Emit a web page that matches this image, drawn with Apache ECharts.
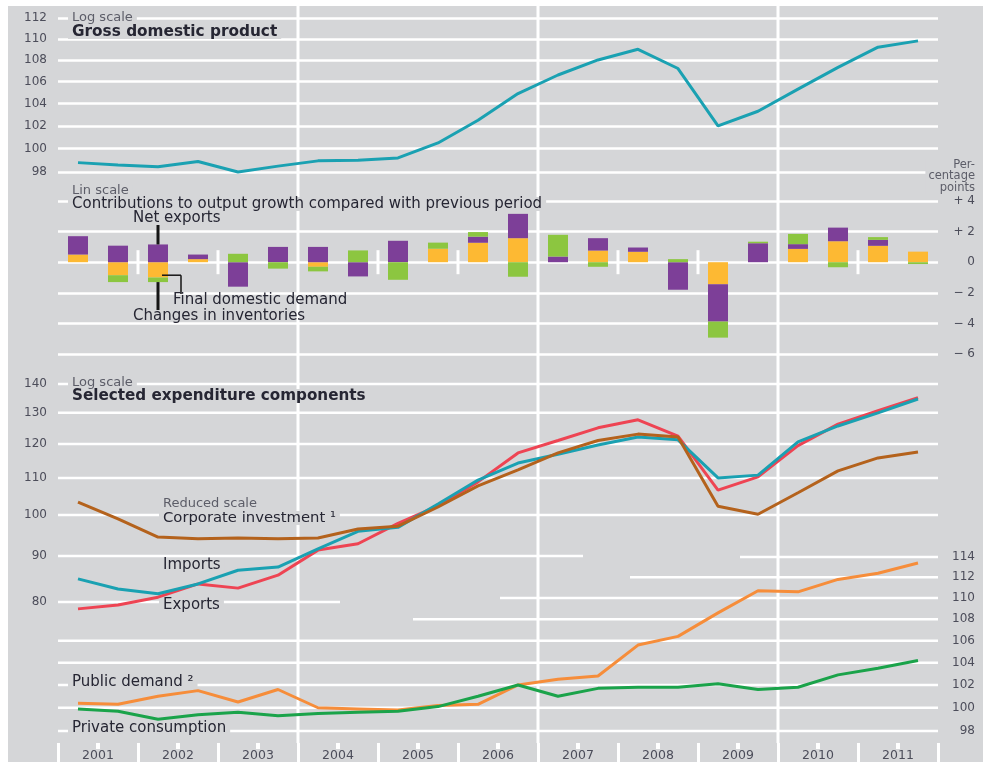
<!DOCTYPE html>
<html><head><meta charset="utf-8">
<script src="https://cdn.jsdelivr.net/npm/echarts@6/dist/echarts.min.js"></script>
<style>
html,body{margin:0;padding:0;background:#fff;}
#bg{position:absolute;left:8px;top:6px;width:975px;height:756px;background:#d5d6d8;}
#chart{position:absolute;left:0;top:0;width:983px;height:762px;}
</style></head><body>
<div id="bg"></div><div id="chart"></div>
<script>
// ---------- data ----------
const halfYears = ['2001 H1','2001 H2','2002 H1','2002 H2','2003 H1','2003 H2','2004 H1','2004 H2','2005 H1','2005 H2','2006 H1','2006 H2','2007 H1','2007 H2','2008 H1','2008 H2','2009 H1','2009 H2','2010 H1','2010 H2','2011 H1','2011 H2'];
const years = ['2001','2002','2003','2004','2005','2006','2007','2008','2009','2010','2011'];
const gdp = [98.8, 98.6, 98.45, 98.9, 98.0, 98.5, 98.95, 99.0, 99.2, 100.5, 102.5, 104.9, 106.6, 108.0, 109.0, 107.2, 102.0, 103.3, 105.3, 107.3, 109.2, 109.8];
const finalDomesticDemand = [0.5, -0.85, -1.0, 0.2, 0, 0, -0.3, 0, 0, 0.88, 1.27, 1.57, 0, 0.76, 0.68, 0, -1.44, 0, 0.87, 1.37, 1.07, 0.69];
const netExports = [1.2, 1.08, 1.16, 0.3, -1.6, 1.0, 1.0, -0.93, 1.4, 0, 0.4, 1.59, 0.37, 0.81, 0.28, -1.8, -2.44, 1.24, 0.31, 0.89, 0.39, 0];
const inventories = [0, -0.45, -0.3, 0, 0.55, -0.42, -0.3, 0.77, -1.15, 0.4, 0.3, -0.95, 1.42, -0.3, 0, 0.2, -1.05, 0.1, 0.67, -0.33, 0.18, -0.12];
const corporateInvestment = [103.4, 99.0, 94.5, 94.1, 94.3, 94.1, 94.3, 96.5, 97.2, 102.1, 107.8, 112.3, 117.3, 121.1, 123.1, 122.2, 102.3, 100.2, 105.9, 112.0, 115.8, 117.6];
const importsIdx = [84.9, 82.7, 81.7, 83.8, 86.8, 87.5, 91.7, 95.9, 96.9, 102.9, 109.4, 114.3, 116.9, 119.7, 122.2, 121.3, 110.0, 110.8, 120.7, 125.7, 130.0, 134.7];
const exportsIdx = [78.6, 79.4, 81.0, 83.8, 82.9, 85.7, 91.4, 92.9, 97.9, 102.4, 108.9, 117.3, 121.1, 125.1, 127.7, 122.5, 106.6, 110.3, 119.5, 126.3, 130.7, 135.2];
const publicDemand = [100.4, 100.3, 101.0, 101.5, 100.5, 101.6, 100.0, 99.9, 99.8, 100.2, 100.3, 102.0, 102.5, 102.8, 105.6, 106.4, 108.6, 110.7, 110.6, 111.8, 112.4, 113.4];
const privateConsumption = [99.9, 99.7, 99.0, 99.4, 99.6, 99.3, 99.5, 99.6, 99.7, 100.1, 101.0, 102.0, 101.0, 101.7, 101.8, 101.8, 102.1, 101.6, 101.8, 102.9, 103.5, 104.2];
const gdpTicks = [98, 100, 102, 104, 106, 108, 110, 112];
const contribTicks = [-6, -4, -2, 0, 2, 4];
const expTicks = [80, 90, 100, 110, 120, 130, 140];
const consTicks = [98, 100, 102, 104, 106, 108, 110, 112, 114];

// ---------- style ----------
const FONT = 'DejaVu Sans';
const BG = '#d5d6d8';
const WHITE = '#ffffff';
const TICK = '#4c4d5a';
const DARK = '#262633';
const GREYT = '#5c5d68';
const TEAL = '#1aa1b2', RED = '#ee4453', BROWN = '#b4621c', ORANGEL = '#f68d3a', GREENL = '#1aa34a';
const PURPLE = '#7d3f98', ORANGEB = '#fdb933', GREENB = '#8cc640';
const L = Math.log;
const fmtExp = v => String(Math.round(Math.exp(v)));
const contribFmt = v => v > 0 ? '+ ' + v : (v < 0 ? '\u2212 ' + (-v) : '0');
const lab = extra => Object.assign({color: TICK, fontSize: 12, fontFamily: FONT}, extra);

const hiddenX = gi => ({type: 'category', gridIndex: gi, data: halfYears, show: false});
const GL = 58, GW = 880;

const chart = echarts.init(document.getElementById('chart'), null, {renderer: 'canvas'});
const lineSeries = (name, xi, yi, vals, color) => ({
  name: name, type: 'line', xAxisIndex: xi, yAxisIndex: yi, data: vals.map(L), clip: false,
  symbol: 'none', lineStyle: {color: color, width: 3}, z: 3
});
const barSeries = (name, vals, color) => ({
  name: name, type: 'bar', xAxisIndex: 1, yAxisIndex: 1, stack: 'c', data: vals,
  barWidth: 20, itemStyle: {color: color}, z: 2
});
const option = {
  animation: false,
  backgroundColor: 'transparent',
  grid: [
    {left: GL, width: GW, top: 18, height: 154},
    {left: GL, width: GW, top: 201, height: 153},
    {left: GL, width: GW, top: 384, height: 218},
    {left: GL, width: GW, top: 557, height: 174},
    {left: GL, width: GW, top: 6, bottom: 19}
  ],
  xAxis: [
    hiddenX(0), hiddenX(1), hiddenX(2), hiddenX(3),
    {type: 'category', gridIndex: 4, data: years, position: 'bottom',
     axisLine: {show: false},
     axisTick: {show: true, interval: 0, length: 19, lineStyle: {color: WHITE, width: 3}},
     axisLabel: lab({interval: 0, margin: 6, fontSize: 12.5}),
     splitLine: {show: false}},
    {type: 'category', gridIndex: 4, data: years, position: 'bottom',
     axisLine: {show: false},
     axisTick: {show: true, interval: 0, alignWithLabel: true, length: 6, lineStyle: {color: WHITE, width: 4}},
     axisLabel: {show: false}, splitLine: {show: false}}
  ],
  yAxis: [
    {type: 'value', gridIndex: 0, min: L(98), max: L(112),
     axisLine: {show: false}, axisTick: {show: false, customValues: gdpTicks.map(L)},
     axisLabel: lab({customValues: gdpTicks.map(L), formatter: fmtExp, margin: 11}),
     splitLine: {show: true, lineStyle: {color: WHITE, width: 2.5}}},
    {type: 'value', gridIndex: 1, position: 'right', min: -6, max: 4, interval: 2,
     axisLine: {show: false}, axisTick: {show: false},
     axisLabel: lab({formatter: contribFmt, align: 'right', margin: 37}),
     splitLine: {show: true, lineStyle: {color: WHITE, width: 2.5}}},
    {type: 'value', gridIndex: 2, min: L(80), max: L(140),
     axisLine: {show: false}, axisTick: {show: false, customValues: expTicks.map(L)},
     axisLabel: lab({customValues: expTicks.map(L), formatter: fmtExp, margin: 11}),
     splitLine: {show: false}},
    {type: 'value', gridIndex: 3, position: 'right', min: L(98), max: L(114),
     axisLine: {show: false}, axisTick: {show: false, customValues: consTicks.map(L)},
     axisLabel: lab({customValues: consTicks.map(L), formatter: fmtExp, align: 'right', margin: 37}),
     splitLine: {show: false}},
    {type: 'value', gridIndex: 4, show: false}
  ],
  series: [
    lineSeries('Gross domestic product', 0, 0, gdp, TEAL),
    barSeries('Final domestic demand', finalDomesticDemand, ORANGEB),
    barSeries('Net exports', netExports, PURPLE),
    barSeries('Changes in inventories', inventories, GREENB),
    lineSeries('Exports', 2, 2, exportsIdx, RED),
    lineSeries('Imports', 2, 2, importsIdx, TEAL),
    lineSeries('Corporate investment', 2, 2, corporateInvestment, BROWN),
    lineSeries('Public demand', 3, 3, publicDemand, ORANGEL),
    lineSeries('Private consumption', 3, 3, privateConsumption, GREENL)
  ]
};
chart.setOption(option);

// ---------- decorations built through the chart's own scales ----------
const G = [];
const yPix = (axis, v) => chart.convertToPixel({yAxisIndex: axis}, v);
const xPix = (axis, i) => chart.convertToPixel({xAxisIndex: axis}, i);
const boundary = k => (xPix(0, k - 1) + xPix(0, k)) / 2;
function seg(x1, y1, x2, y2, color, w, z) {
  G.push({type: 'line', silent: true, z: z, shape: {x1: x1, y1: y1, x2: x2, y2: y2},
          style: {stroke: color, lineWidth: w}});
}
// full-height separators every three years
[6, 12, 18].forEach(k => { const x = boundary(k); seg(x, 6, x, 743, WHITE, 3, 0); });

// partial gridlines of the lower panel: [axis, value, from x, to x]
const lowerGrid = [
  [2, 140, 58, 938], [2, 130, 58, 938], [2, 120, 58, 938], [2, 110, 58, 938], [2, 100, 58, 938],
  [2, 90, 58, 583], [2, 80, 58, 340],
  [3, 114, 740, 938], [3, 112, 630, 938], [3, 110, 500, 938], [3, 108, 413, 938],
  [3, 106, 58, 938], [3, 104, 58, 938], [3, 102, 58, 938], [3, 100, 58, 938], [3, 98, 58, 938]
];
lowerGrid.forEach(g => { const y = yPix(g[0], L(g[1])); seg(g[2], y, g[3], y, WHITE, 2.5, 0); });

// year-boundary marks on the zero line of the contributions panel
const y0 = yPix(1, 0);
[2, 4, 8, 10, 14, 16, 20].forEach(k => {
  const x = boundary(k);
  seg(x, y0 - 12, x, y0 + 12, WHITE, 3, 0);
});

// label pointers to the third bar
const bi = 2;
const bx = xPix(1, bi);
const parts = [finalDomesticDemand[bi], netExports[bi], inventories[bi]];
const posTop = yPix(1, parts.filter(v => v > 0).reduce((a, b) => a + b, 0));
const negBot = yPix(1, parts.filter(v => v < 0).reduce((a, b) => a + b, 0));
const fddMid = yPix(1, finalDomesticDemand[bi] * 0.85);
seg(bx, 225, bx, posTop, '#151515', 3, 6);
seg(bx, negBot, bx, 310, '#151515', 3, 6);
seg(bx + 4, fddMid, bx + 23, fddMid, '#151515', 1.5, 6);
seg(bx + 23, fddMid, bx + 23, 294, '#151515', 1.5, 6);

function text(t, x, y, o) {
  o = o || {};
  G.push({type: 'text', x: x, y: y, z: o.z || 1, silent: true,
    style: {text: t, fill: o.color || DARK, fontFamily: FONT, fontSize: o.size || 15,
      fontWeight: o.weight || 'normal', align: o.align || 'left', verticalAlign: o.valign || 'middle',
      lineHeight: o.lh || 13, backgroundColor: o.bg === false ? null : BG, padding: o.pad || [0, 4]}});
}
text('Log scale', 68, 18, {size: 13, color: GREYT, lh: 12});
text('Gross domestic product', 68, 32, {size: 15.3, weight: 'bold', lh: 14});
text('Lin scale', 68, 191, {size: 13, color: GREYT, lh: 12});
text('Contributions to output growth compared with previous period', 68, 204, {size: 15, lh: 14});
text('Net exports', 129, 218, {size: 15});
text('Final domestic demand', 169, 300, {size: 15, bg: false, z: 6});
text('Changes in inventories', 129, 316, {size: 15, bg: false, z: 6});
text('Per-\ncentage\npoints', 978, 159, {size: 11.5, color: GREYT, align: 'right', valign: 'top', lh: 11.5, pad: [0, 3]});
text('Log scale', 68, 383, {size: 13, color: GREYT, lh: 12});
text('Selected expenditure components', 68, 396, {size: 15.2, weight: 'bold', lh: 14});
text('Reduced scale', 159, 504, {size: 13, color: GREYT, lh: 12});
text('Corporate investment \u00b9', 159, 518, {size: 14.8, lh: 14});
text('Imports', 159, 565, {size: 15});
text('Exports', 159, 605, {size: 15});
text('Public demand \u00b2', 68, 682, {size: 15});
text('Private consumption', 68, 728, {size: 15});

chart.setOption({graphic: {elements: G}});
</script>
</body></html>
